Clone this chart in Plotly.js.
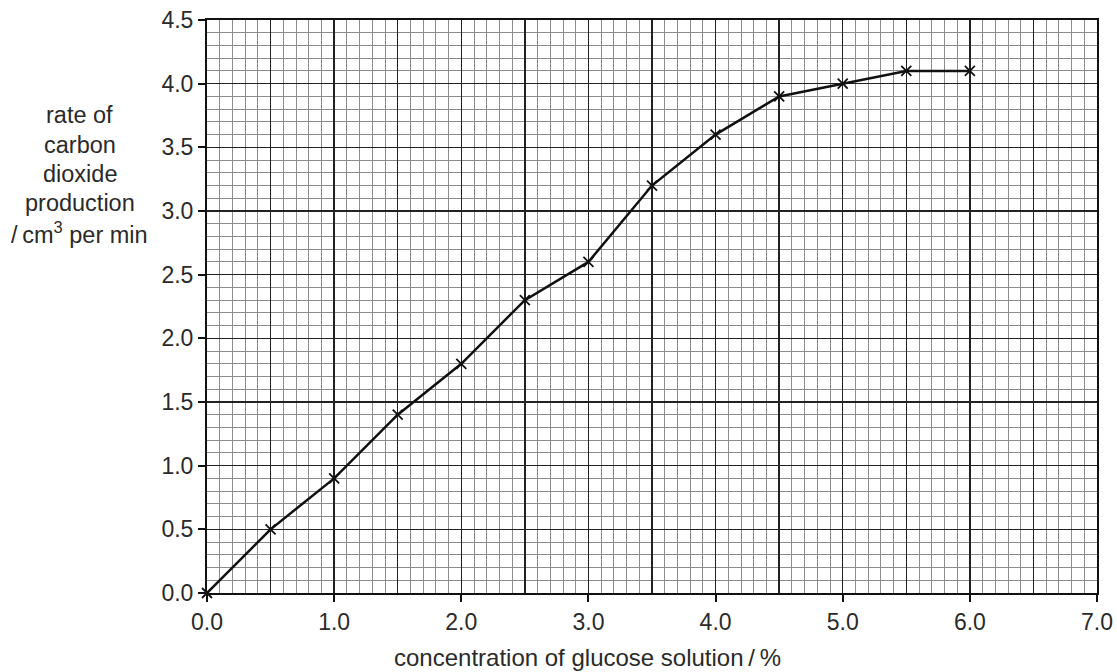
<!DOCTYPE html>
<html>
<head>
<meta charset="utf-8">
<script src="https://cdn.plot.ly/plotly-3.0.1.min.js"></script>
<style>html,body{margin:0;padding:0;background:#fff;}#chart{width:1117px;height:672px;}</style>
</head>
<body>
<div id="chart"></div>
<script>
// Data
const concentration = [0.0, 0.5, 1.0, 1.5, 2.0, 2.5, 3.0, 3.5, 4.0, 4.5, 5.0, 5.5, 6.0];
const co2Rate = [0.0, 0.5, 0.9, 1.4, 1.8, 2.3, 2.6, 3.2, 3.6, 3.9, 4.0, 4.1, 4.1];
const xTitle = 'concentration of glucose solution\u2009/\u2009%';
const yTitleLines = ['rate of', 'carbon', 'dioxide', 'production', '/\u2009cm<sup>3</sup> per min'];

const FONT = 'Liberation Sans, Arial, Helvetica, sans-serif';
const TXT = '#2a2a2a';

const traces = [
  {
    x: concentration, y: co2Rate, type: 'scatter', mode: 'lines+markers',
    line: {color: '#111', width: 2.5},
    marker: {symbol: 'x-thin-open', size: 10, color: '#111', line: {color: '#111', width: 1.8}},
    hoverinfo: 'x+y', showlegend: false, cliponaxis: false
  },
  { x: [], y: [], xaxis: 'x2', yaxis: 'y', type: 'scatter', showlegend: false, hoverinfo: 'skip' }
];

// y-title: one annotation per line to match the reference line spacing
const plotTop = 20, plotH = 573, titleCenterPx = 174, lineGap = 29.5;
const yTitleAnn = yTitleLines.map((t, i) => ({
  text: t, xref: 'paper', yref: 'paper',
  x: -0.143,
  y: 1 - (titleCenterPx + (i - (yTitleLines.length - 1) / 2) * lineGap - plotTop) / plotH,
  xanchor: 'center', yanchor: 'middle', align: 'center',
  showarrow: false, font: {family: FONT, size: 23.5, color: TXT}
}));

const layout = {
  width: 1117, height: 672,
  margin: {l: 207, r: 20, t: 20, b: 79},
  paper_bgcolor: '#fff', plot_bgcolor: '#fff',
  font: {family: FONT, size: 23, color: TXT},
  showlegend: false,
  xaxis: {
    range: [0, 7], tick0: 0, dtick: 1, tickformat: '.1f',
    ticks: 'outside', ticklen: 7, tickwidth: 2, tickcolor: '#111',
    showgrid: false, zeroline: false,
    showline: true, mirror: true, linecolor: '#111', linewidth: 2,
    tickfont: {family: FONT, size: 23, color: TXT}, fixedrange: true
  },
  xaxis2: {
    overlaying: 'x', matches: 'x', range: [0, 7], anchor: 'y',
    tick0: 0, dtick: 0.5, showticklabels: false, ticks: '',
    showgrid: true, gridcolor: '#222', gridwidth: 1.4, zeroline: false, showline: false,
    minor: {dtick: 0.1, showgrid: true, gridcolor: '#8c8c8c', gridwidth: 1}
  },
  yaxis: {
    range: [0, 4.5], tick0: 0, dtick: 0.5, tickformat: '.1f',
    ticks: 'outside', ticklen: 7, tickwidth: 2, tickcolor: '#111',
    showgrid: true, gridcolor: '#222', gridwidth: 1.4, zeroline: false,
    minor: {dtick: 0.1, showgrid: true, gridcolor: '#8c8c8c', gridwidth: 1},
    showline: true, mirror: true, linecolor: '#111', linewidth: 2,
    tickfont: {family: FONT, size: 23, color: TXT}, fixedrange: true
  },
  annotations: yTitleAnn.concat([
    {
      text: xTitle, xref: 'paper', yref: 'paper',
      x: 0.428, y: -0.1134, xanchor: 'center', yanchor: 'middle',
      showarrow: false, font: {family: FONT, size: 24, color: TXT}
    }
  ])
};

Plotly.newPlot('chart', traces, layout, {displayModeBar: false, staticPlot: true});
</script>
</body>
</html>
